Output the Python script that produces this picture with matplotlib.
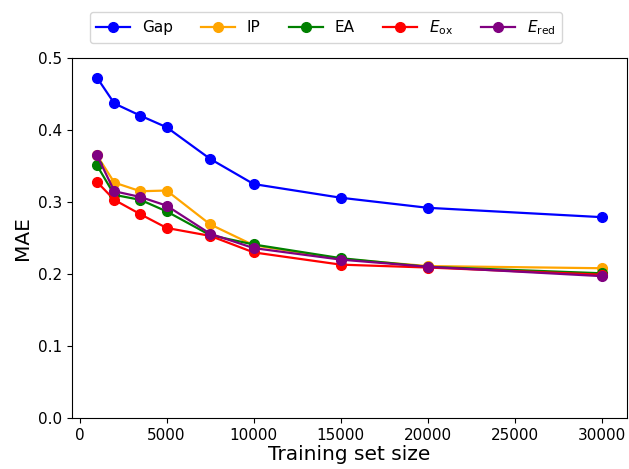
import numpy as np
import matplotlib.pyplot as plt

# Training set sizes
sizes = [1000, 2000, 3500, 5000, 7500, 10000, 15000, 20000, 30000]

# MAE per property
mae_gap = [0.473, 0.437, 0.420, 0.404, 0.360, 0.325, 0.306, 0.292, 0.279]
mae_ip = [0.365, 0.327, 0.315, 0.316, 0.269, 0.240, 0.221, 0.211, 0.208]
mae_ea = [0.351, 0.310, 0.303, 0.287, 0.254, 0.241, 0.222, 0.210, 0.201]
mae_eox = [0.328, 0.303, 0.283, 0.264, 0.253, 0.230, 0.213, 0.209, 0.199]
mae_ered = [0.365, 0.315, 0.307, 0.295, 0.256, 0.236, 0.220, 0.210, 0.197]

labels = ["Gap", "IP", "EA", r"$E_{\mathrm{ox}}$", r"$E_{\mathrm{red}}$"]
colors = ["blue", "orange", "green", "red", "purple"]
series = [mae_gap, mae_ip, mae_ea, mae_eox, mae_ered]

fig = plt.figure(figsize=(6.29, 4.69), dpi=100)
ax = fig.add_axes([0.114, 0.109, 0.883, 0.767])

for vals, lab, col in zip(series, labels, colors):
    ax.plot(sizes, vals, marker="o", color=col, label=lab, linewidth=1.6, markersize=7)

ax.set_ylim(0, 0.5)
ax.set_xlabel("Training set size", fontsize=14.5, labelpad=2)
ax.set_ylabel("MAE", fontsize=14.5)
ax.tick_params(labelsize=11)

fig.legend(loc="upper center", bbox_to_anchor=(0.518, 0.99), ncol=5,
           fontsize=11, handlelength=2.2, handletextpad=0.8, columnspacing=1.85)

fig.savefig("out.png", dpi=100)
